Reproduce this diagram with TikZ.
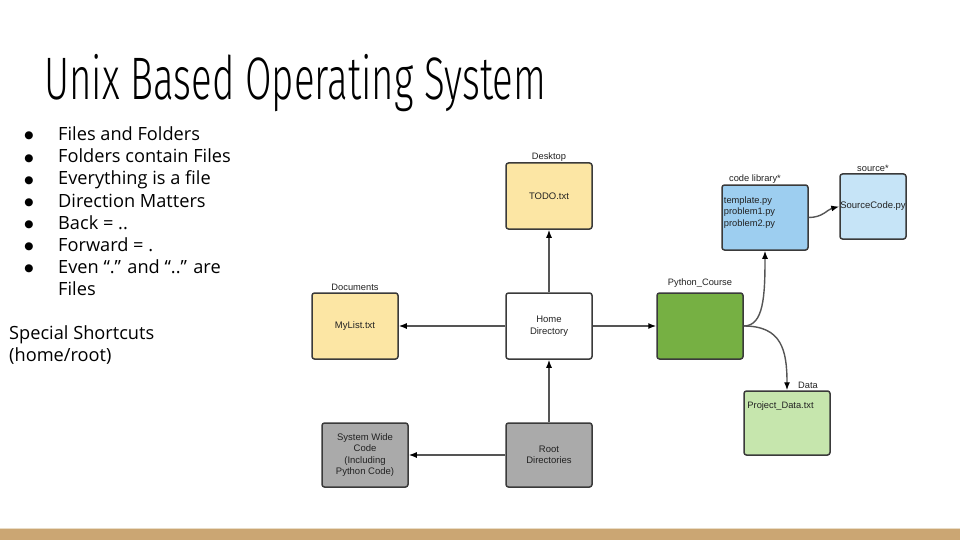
\documentclass[tikz,border=0pt]{standalone}
\usepackage{fontspec}
\usepackage{graphicx}
\usetikzlibrary{arrows.meta}
\setmainfont{Open Sans}
\newfontfamily\diagfont{Liberation Sans}
\newfontfamily\titlefont{Fira Sans Light}
\newfontfamily\symfont{DejaVu Sans}

\definecolor{barcol}{HTML}{CBA673}
\definecolor{barline}{HTML}{E9DCC6}
\definecolor{bordercol}{HTML}{3A3A3A}
\definecolor{linecol}{HTML}{555555}
\definecolor{yellowfill}{HTML}{FCE6A4}
\definecolor{bluefill}{HTML}{9DCEF0}
\definecolor{paleblue}{HTML}{C6E4F7}
\definecolor{greenfill}{HTML}{76B043}
\definecolor{palegreen}{HTML}{C6E6AD}
\definecolor{grayfill}{HTML}{AAAAAA}
\definecolor{textcol}{HTML}{222222}

\tikzset{
  box/.style={draw=bordercol, line width=1.5pt, rounded corners=2.5pt,
    minimum width=86pt, minimum height=66pt, inner sep=0pt, align=center,
    text=textcol, font=\diagfont\fontsize{9.5}{11.5}\selectfont},
  lab/.style={inner sep=1pt, text=textcol, font=\diagfont\fontsize{9.3}{11.5}\selectfont},
  arr/.style={draw=linecol, line width=1.4pt,
    -{Latex[length=8pt,width=6pt,color=black]}},
  bul/.style={anchor=base west, inner sep=0pt, font=\fontsize{18.2}{21}\selectfont},
  dot/.style={anchor=base, inner sep=0pt, font=\symfont\fontsize{10.5}{12}\selectfont}
}

\begin{document}
\begin{tikzpicture}[x=1pt,y=-1pt]
\useasboundingbox (0,0) rectangle (960,540);
\fill[white] (0,0) rectangle (960,540);

% footer band
\fill[barline] (0,527.5) rectangle (960,529.5);
\fill[barcol] (0,529) rectangle (960,540);

% heading
\node[anchor=base west, inner sep=0pt] (title) at (44,100)
  {\titlefont\fontsize{60}{60}\selectfont\resizebox{502pt}{\height}{Unix Based Operating System}};

% bullet list
\node[dot] (d1) at (29,139) {●}; \node[bul] (b1) at (58,141) {Files and Folders};
\node[dot] (d2) at (29,161) {●}; \node[bul] (b2) at (58,163) {Folders contain Files};
\node[dot] (d3) at (29,183) {●}; \node[bul] (b3) at (58,185) {Everything is a file};
\node[dot] (d4) at (29,205) {●}; \node[bul] (b4) at (58,207) {Direction Matters};
\node[dot] (d5) at (29,227) {●}; \node[bul] (b5) at (58,229) {Back = ..};
\node[dot] (d6) at (29,249) {●}; \node[bul] (b6) at (58,251) {Forward = .};
\node[dot] (d7) at (29,271) {●}; \node[bul] (b7) at (58,273) {Even “.” and “..” are};
\node[bul] (b8) at (58,295) {Files};
\node[bul] (s1) at (9,339) {Special Shortcuts};
\node[bul] (s2) at (9,361) {(home/root)};

% directory boxes
\node[box, fill=yellowfill, label={[lab]above:Desktop}] (desk) at (549,196) {TODO.txt};
\node[box, fill=yellowfill, label={[lab]above:Documents}] (docs) at (355,326) {MyList.txt};
\node[box, fill=white] (home) at (549,326) {Home\\Directory};
\node[box, fill=greenfill, label={[lab, yshift=4pt]above:Python\_Course}] (py) at (700,326) {};
\node[box, fill=bluefill, minimum height=65pt,
  label={[lab, xshift=-10pt]above:code library*}] (code) at (765,217.5) {};
\node[lab, anchor=north west, align=left, inner sep=0pt] (codetxt)
  at ([xshift=2.5pt,yshift=-12pt]code.north west) {template.py\\problem1.py\\problem2.py};
\node[box, fill=paleblue, minimum width=66pt, minimum height=65pt,
  label={[lab]above:source*}] (src) at (873,206.5) {\makebox[0pt]{SourceCode.py}};
\node[box, fill=palegreen, minimum height=64pt,
  label={[lab, xshift=21pt]above:Data}] (data) at (787,423) {};
\node[lab, anchor=north west, inner sep=0pt] (datatxt)
  at ([xshift=4pt,yshift=-11pt]data.north west) {Project\_Data.txt};
\node[box, fill=grayfill, minimum height=64pt] (sys) at (365,455)
  {System Wide\\Code\\(Including\\Python Code)};
\node[box, fill=grayfill, minimum height=64pt] (root) at (549,455) {Root\\Directories};

% connectors
\draw[arr] (home) -- (docs);
\draw[arr] (home) -- (desk);
\draw[arr] (home) -- (py);
\draw[arr] (root) -- (home);
\draw[arr] (root) -- (sys);
\draw[arr] (py.east) .. controls +(20,0) and +(0,45) .. (code.south);
\draw[arr] (py.east) .. controls +(38,0) and +(0,-40) .. (data.north);
\draw[arr] (code.east) .. controls +(14,0) and +(-12,3) .. (src.west);
\end{tikzpicture}
\end{document}
